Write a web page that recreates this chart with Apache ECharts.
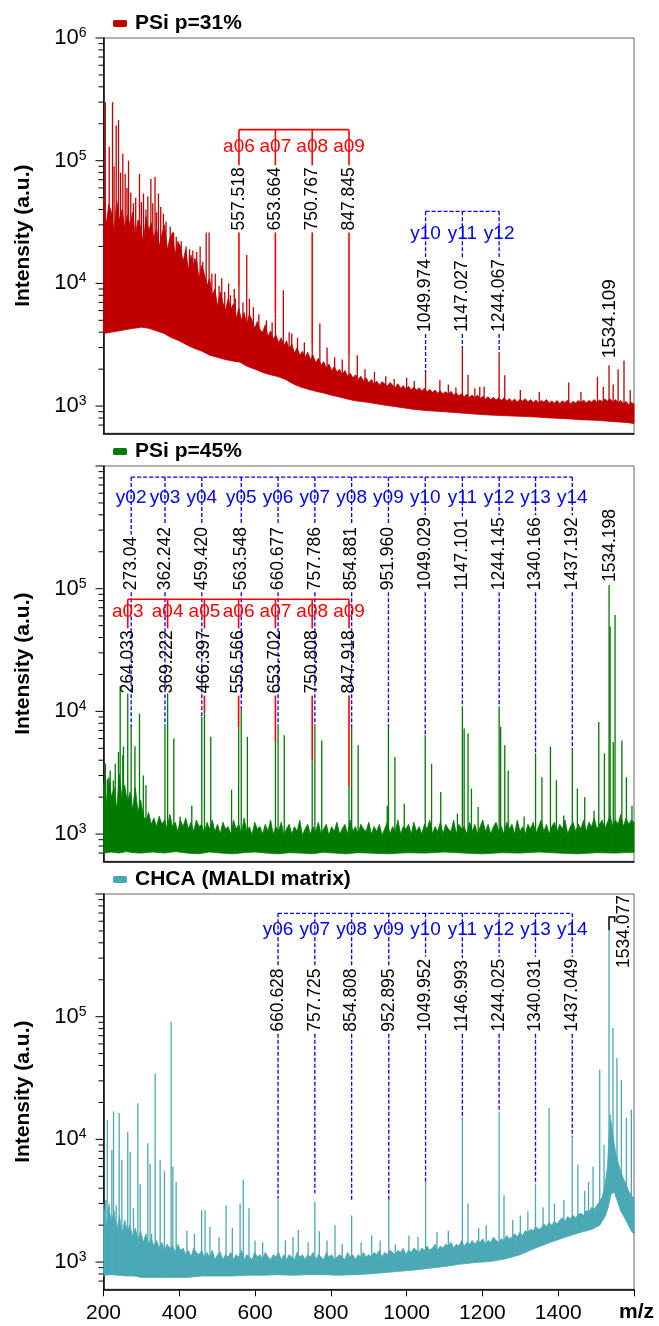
<!DOCTYPE html>
<html><head><meta charset="utf-8">
<script src="https://cdn.jsdelivr.net/npm/echarts@6/dist/echarts.min.js"></script>
<style>html,body{margin:0;padding:0;background:#fff}#c{width:659px;height:1326px}</style>
</head><body><div id="c"></div>
<script>
// ---------------- DATA ----------------
const xTicks = [200, 400, 600, 800, 1000, 1200, 1400, 1600];
const majorTicks = [1000, 10000, 100000, 1000000];
const minorTicks = [700,800,900,2000,3000,4000,5000,6000,7000,8000,9000,20000,30000,40000,50000,60000,70000,80000,90000,200000,300000,400000,500000,600000,700000,800000,900000];
const seriesNames = ['PSi p=31%', 'PSi p=45%', 'CHCA (MALDI matrix)'];

// upper edge of the noise band, sampled every 7 m/z from m/z 200 to 1600
const topStart = 200, topStep = 7;
const p1Top = [52000,30000,44000,38000,26000,47000,33000,40000,28000,36000,
 30000,38000,24000,33000,29000,21000,35000,27000,31000,23000,
 28000,20000,25000,30000,19000,23000,26000,17000,22000,20000,
 15000,19000,13000,17000,14000,16000,11000,14000,12000,9500,
 11000,8000,9000,6500,8500,7000,6000,7500,6200,6800,
 5200,6300,5000,5800,4600,5600,5000,4300,4900,4200,
 4000,4600,3700,4100,3500,3800,3300,3600,3100,3400,
 2900,3200,2700,3000,2600,2800,2500,2750,2400,2600,
 2250,2450,2150,2300,2050,2200,1950,2100,1900,2000,
 1800,1950,1750,1850,1700,1800,1650,1750,1600,1700,
 1550,1650,1500,1600,1480,1580,1520,1450,1560,1480,
 1420,1520,1400,1470,1380,1450,1360,1430,1350,1410,
 1330,1400,1300,1370,1290,1350,1270,1330,1260,1310,
 1250,1320,1230,1280,1210,1260,1190,1250,1180,1230,
 1170,1230,1150,1200,1140,1190,1130,1180,1120,1170,
 1110,1170,1100,1150,1090,1140,1080,1130,1100,1150,
 1080,1130,1070,1120,1060,1110,1080,1130,1060,1100,
 1060,1110,1050,1100,1070,1120,1040,1090,1060,1110,
 1070,1120,1060,1110,1080,1130,1070,1120,1090,1140,
 1100,1150,1080,1130,1070,1110,1050,1090,1030,1070,1040];
const p2Top = [2600,1700,2900,2000,2400,1600,3100,1900,2500,1800,
 2200,1600,2400,1500,1900,1400,1300,1500,1200,1350,
 1150,1400,1200,1300,1100,1450,1150,1250,1050,1300,
 1150,1350,1100,1250,1050,1300,1150,1200,1000,1250,
 1100,1300,1050,1200,1000,1250,1100,1150,1000,1300,
 1100,1200,1000,1350,1050,1150,980,1250,1100,1150,
 1000,1200,1050,1300,1000,1150,1050,1250,980,1100,
 1200,1000,1150,1050,1300,980,1100,1200,1000,1150,
 1050,1250,1000,1100,1200,980,1150,1050,1250,1000,
 1100,1200,1000,1300,1050,1150,1000,1200,1100,1050,
 1250,1000,1150,1050,1200,980,1100,1250,1000,1150,
 1050,1300,1000,1150,1100,1200,1000,1250,1050,1150,
 1000,1200,1100,1300,1000,1150,1050,1250,1000,1200,
 1100,1050,1300,1000,1200,1100,1150,1000,1250,1050,
 1200,1000,1150,1300,1050,1200,1000,1150,1250,1050,
 1150,1000,1250,1100,1200,1000,1300,1050,1150,1000,
 1200,1100,1250,1000,1150,1300,1050,1200,1000,1150,
 1250,1050,1200,1100,1300,1000,1150,1250,1050,1200,
 1100,1300,1050,1250,1150,1350,1100,1200,1300,1100,
 1250,1400,1150,1300,1200,1450,1150,1350,1200,1300,1250];
const p3Top = [3000,1900,2800,2100,2600,1800,2400,1700,2200,1800,
 2000,1600,1900,1500,1800,1450,1700,1400,1550,1350,
 1500,1300,1450,1250,1400,1300,1350,1200,1400,1250,
 1300,1150,1250,1100,1300,1200,1150,1250,1100,1200,
 1100,1250,1050,1150,1200,1050,1150,1100,1200,1050,
 1150,1100,1250,1050,1150,1100,1050,1200,1100,1150,
 1050,1200,1100,1050,1150,1100,1200,1050,1150,1050,
 1150,1100,1050,1200,1100,1150,1050,1150,1100,1200,
 1050,1150,1100,1050,1200,1100,1150,1050,1100,1150,
 1100,1050,1200,1100,1150,1050,1150,1100,1200,1100,
 1150,1100,1200,1150,1250,1100,1200,1150,1250,1200,
 1150,1250,1200,1300,1150,1250,1200,1300,1250,1200,
 1300,1250,1350,1250,1300,1400,1250,1350,1300,1400,
 1350,1450,1300,1400,1350,1500,1350,1450,1400,1500,
 1400,1500,1450,1550,1400,1500,1450,1600,1500,1450,
 1550,1500,1650,1550,1600,1700,1600,1750,1650,1800,
 1750,1850,1800,1950,1850,1900,2050,1950,2100,2000,
 2150,2050,2200,2300,2150,2350,2250,2400,2300,2450,
 2500,2400,2650,2550,2800,2700,2900,3100,3400,4200,
 6000,16000,11000,8000,6500,5500,4800,4300,3800,3500,3300];
// lower edge of the noise band: [m/z, intensity]
const p1Low = [[200,3900],[220,4000],[240,4100],[260,4200],[280,4300],[300,4400],[320,4300],[340,4100],[360,3900],[380,3600],[400,3400],[420,3150],[440,2950],[460,2800],[480,2600],[500,2500],[520,2400],[540,2330],[560,2280],[580,2100],[600,2000],[620,1880],[640,1800],[660,1740],[680,1650],[700,1520],[720,1430],[740,1370],[760,1320],[780,1280],[800,1230],[820,1190],[840,1150],[860,1110],[880,1090],[900,1070],[940,1020],[980,980],[1020,940],[1060,915],[1100,900],[1140,880],[1180,860],[1220,845],[1260,835],[1300,825],[1340,815],[1380,800],[1420,790],[1460,775],[1500,765],[1540,750],[1580,735],[1600,720]];
const p2Low = [[200,700],[220,715],[240,700],[260,720],[280,705],[300,700],[330,715],[360,700],[390,720],[420,700],[450,690],[480,715],[510,700],[540,690],[570,705],[600,715],[630,700],[660,690],[690,705],[720,700],[750,690],[780,710],[810,700],[840,690],[870,705],[900,700],[950,690],[1000,705],[1050,700],[1100,715],[1150,700],[1200,690],[1250,705],[1300,700],[1350,715],[1400,700],[1450,690],[1500,705],[1550,700],[1600,710]];
const p3Low = [[200,780],[220,790],[240,780],[260,770],[280,770],[300,750],[340,750],[380,750],[420,750],[460,770],[500,770],[540,770],[580,780],[620,780],[660,790],[700,780],[740,790],[780,790],[820,780],[860,790],[900,800],[940,820],[980,840],[1020,860],[1060,890],[1100,920],[1140,960],[1180,990],[1220,1010],[1260,1060],[1300,1150],[1340,1300],[1380,1450],[1420,1600],[1460,1750],[1490,1850],[1510,2000],[1525,2400],[1532,2800],[1540,3600],[1548,3700],[1555,3200],[1565,2600],[1575,2300],[1585,2000],[1595,1750],[1600,1700]];

// peaks: [m/z, intensity]
const p1Peaks = [[204.7,300000],[215,130000],[223.8,300000],[228,90000],[233.5,194000],[239.6,214000],[245,80000],[251,114000],[257.2,78000],[262,60000],[266,100000],[272,55000],[279,45000],[285,50000],[295,78000],[300,46000],[305.5,54000],[312,40000],[317,51000],[325,71000],[330,45000],[336,74000],[340,38000],[345,54000],[351,42000],[358,37000],[365,32000],[376,29000],[385,26000],[392,24000],[399.6,18000],[405,22000],[411,15500],[418,20000],[427,19000],[435.7,18500],[440,16000],[446,18000],[455,20000],[462,15000],[471,26000],[478.7,26000],[486,12000],[495,12000],[505,9500],[512,11000],[520,8500],[530,10000],[535,8000],[545,9000],[548,7500],[557.5,9300],[568,7000],[578,17000],[585,7500],[595.5,6400],[610,5600],[630,5000],[645,4800],[653.7,5700],[674.6,8800],[690,4000],[696.7,3900],[712,3600],[730,3300],[750.8,3150],[771,4700],[790,3000],[810,2500],[830,2400],[847.8,2600],[869.7,2600],[890,2000],[915,1900],[945,1750],[967,1660],[1000,1700],[1020,1600],[1050,1850],[1087.7,1630],[1110,1500],[1130,1420],[1147,2980],[1162,1800],[1180,1400],[1193,1440],[1204.5,1440],[1244.1,2750],[1259,1780],[1300,1350],[1350,1300],[1427.8,1560],[1460,1300],[1503.5,1730],[1519,1430],[1534.1,2150],[1545,1500],[1558,2000],[1573.6,2340],[1590,1350]];
const p2Peaks = [[205,3750],[210,2800],[217.7,3300],[226,2740],[231,3750],[239.5,4670],[244,16000],[251,4400],[252.7,5160],[264,14000],[273,7460],[283,5200],[295,9600],[305,3000],[312,2500],[362.2,7700],[369.2,14000],[385.6,6000],[402,1390],[433,1700],[459.4,9000],[466.4,10000],[483,6200],[538,2300],[556.6,7460],[563.5,10400],[579.7,6200],[653.7,5640],[660.7,7700],[677,6400],[750.8,4000],[757.8,7700],[776,5800],[847.9,2420],[854.9,7460],[872,5300],[948.8,1700],[952,7460],[969,4250],[993.7,1770],[1049,6380],[1065.8,3730],[1090,2200],[1134,1470],[1147.1,10900],[1151.8,7250],[1162,6600],[1171,2350],[1188.6,1660],[1244.1,10900],[1248,7460],[1259,5300],[1268,3300],[1310,1390],[1340.2,4550],[1357,2900],[1379.5,5160],[1395.3,2750],[1414.6,1420],[1437.2,4820],[1450.6,2350],[1470,2000],[1494.6,1550],[1507,8200],[1522,4550],[1534.2,107000],[1537,49000],[1545.2,5640],[1550,61000],[1568,5800],[1580,2900],[1594.6,1700]];
const p3Peaks = [[206,3200],[210,14400],[215,3000],[222,8200],[226.5,16900],[233.5,2900],[241.4,16400],[248.4,6800],[264,11500],[270.4,7900],[279,2750],[290.7,19700],[296.8,4300],[317,9300],[323,6300],[327,1700],[336.3,34500],[349.5,6800],[360.8,5500],[378.5,91000],[383,6000],[391.7,4500],[420,1800],[440,1700],[459,2650],[468,2650],[481,1930],[505,1600],[523.5,2900],[540,1900],[560.5,3000],[569,4700],[584,2750],[600,1500],[620,1450],[660.6,3300],[680,1500],[700,1600],[714,1830],[740,1450],[757.7,3100],[769.5,1780],[790,1500],[811,2000],[830,1400],[854.8,2400],[880,1450],[907.6,1650],[930,1500],[952.9,3200],[970,1400],[1006,1650],[1030,1600],[1050,4500],[1080,1750],[1110,1800],[1147,14800],[1162,3000],[1190,1900],[1210,2000],[1244,16800],[1257,3500],[1280,2200],[1300,2400],[1320,2600],[1340,4300],[1360,2800],[1376,18000],[1390,3000],[1400,2050],[1415,3200],[1437,10500],[1452,6200],[1470,3800],[1480,4500],[1492,6000],[1509.5,37000],[1521,9000],[1534.1,510000],[1544.6,81000],[1555,46000],[1566.7,30500],[1580,15000],[1593,17500]];

// fragment annotations: [label m/z text, ion name, peak intensity]
const p1aIons = [['557.518','a06',9300],['653.664','a07',5700],['750.767','a08',3150],['847.845','a09',2600]];
const p1yIons = [['1049.974','y10',1850],['1147.027','y11',2980],['1244.067','y12',2750]];
const p2yIons = [['273.04','y02',7460],['362.242','y03',7700],['459.420','y04',9000],['563.548','y05',10400],['660.677','y06',7700],['757.786','y07',7700],['854.881','y08',7460],['951.960','y09',7460],['1049.029','y10',6380],['1147.101','y11',10900],['1244.145','y12',10900],['1340.166','y13',4550],['1437.192','y14',4820]];
const p2aIons = [['264.033','a03',14000],['369.222','a04',14000],['466.397','a05',9900],['556.566','a06',7460],['653.702','a07',5640],['750.808','a08',4000],['847.918','a09',2420]];
const p3yIons = [['660.628','y06',3300],['757.725','y07',3640],['854.808','y08',3100],['952.895','y09',3200],['1049.952','y10',4500],['1146.993','y11',14800],['1244.025','y12',16800],['1340.031','y13',4300],['1437.049','y14',10500]];
// bracket level, ion-label level, number-label bottom level (intensity units)
const p1aLevels = [179000, 129000, 27000];
const p1yLevels = [38700, 25400, 4020];
const p2yLevels = [813000, 556000, 97000];
const p2aLevels = [82000, 64600, 13970];
const p3yLevels = [696000, 509000, 75500];
// parent-ion labels: [text, m/z position, bottom level]
const p1Parent = ['1534.109', 1536, 2450];
const p2Parent = ['1534.198', 1537, 113500];
const p3Parent = ['1534.077', 1575, 249000];
const p3Hook = [[1534.077,510000],[1534.077,650000],[1549,650000],[1549,590000]];

// ---------------- RENDER ----------------
const FONT = '"Liberation Sans", Arial, sans-serif';
const COLORS = ['#c00000', '#007a00', '#4aa9b4'];
const RED = '#ff0000', BLUE = '#0000ff';
const NUM_SIZE = 17.5, ION_SIZE = 19;
const GRID_TOP = [38, 466, 894];
const mctx = document.createElement('canvas').getContext('2d');
function textW(t, size){ mctx.font = size + 'px ' + FONT; return mctx.measureText(t).width; }

function baseAt(low, mz){
  for (let i = 0; i < low.length - 1; i++){
    if (mz >= low[i][0] && mz <= low[i+1][0]) return Math.max(low[i][1], low[i+1][1]) * 1.05;
  }
  return low[low.length-1][1] * 1.05;
}
function bandSeries(idx, top, low, color, name){
  return {type:'custom', name:name, xAxisIndex:idx, yAxisIndex:idx, silent:true, z:2,
    itemStyle:{color:color}, data:[[topStart, top[0]]],
    renderItem(params, api){
      const pts = [];
      top.forEach((v, k) => pts.push(api.coord([topStart + k * topStep, v])));
      for (let i = low.length-1; i >= 0; i--) pts.push(api.coord(low[i]));
      return {type:'polygon', shape:{points:pts}, style:{fill:color, stroke:color, lineWidth:0.8}};
    }};
}
function stickSeries(idx, peaks, low, color){
  return {type:'custom', xAxisIndex:idx, yAxisIndex:idx, silent:true, z:3, data:peaks,
    renderItem(params, api){
      const mz = api.value(0), v = api.value(1);
      const p0 = api.coord([mz, baseAt(low, mz)]), p1 = api.coord([mz, v]);
      return {type:'line', shape:{x1:p0[0], y1:p0[1], x2:p1[0], y2:p1[1]}, style:{stroke:color, lineWidth:1.3}};
    }};
}
function tickSeries(idx, vals, len){
  return {type:'custom', xAxisIndex:idx, yAxisIndex:idx, silent:true, z:5, clip:false,
    data: vals.map(v => [xTicks[0], v]),
    renderItem(params, api){
      const p = api.coord([api.value(0), api.value(1)]);
      return {type:'line', shape:{x1:p[0]-len, y1:p[1], x2:p[0], y2:p[1]}, style:{stroke:'#000', lineWidth:1}};
    }};
}
function annoSeries(idx, ions, levels, color, dashed, z){
  const n = ions.length;
  return {type:'custom', xAxisIndex:idx, yAxisIndex:idx, silent:true, z:z, clip:false,
    data: ions.map(d => [parseFloat(d[0]), d[2]]),
    renderItem(params, api){
      const d = ions[params.dataIndex];
      const mz = parseFloat(d[0]);
      const pB = api.coord([mz, levels[0]]);
      const x = pB[0], yB = pB[1];
      const yIon = api.coord([mz, levels[1]])[1];
      const yNb = api.coord([mz, levels[2]])[1];
      const yPk = api.coord([mz, d[2]])[1];
      const w = textW(d[0], NUM_SIZE);
      const ls = {stroke:color, lineWidth: dashed ? 1.3 : 1.6, lineDash: dashed ? [4, 2] : null};
      const ch = [];
      if (params.dataIndex === 0){
        const xl = api.coord([parseFloat(ions[n-1][0]), levels[0]])[0];
        ch.push({type:'line', shape:{x1:x, y1:yB, x2:xl, y2:yB}, style:ls});
      }
      ch.push({type:'line', shape:{x1:x, y1:yB, x2:x, y2:yNb - w - 2}, style:ls});
      if (yPk > yNb + 2) ch.push({type:'line', shape:{x1:x, y1:yNb + 2, x2:x, y2:yPk}, style:ls});
      ch.push({type:'text', x:x, y:yIon, style:{text:d[1], fill:color, fontSize:ION_SIZE, fontFamily:FONT, align:'center', verticalAlign:'middle'}});
      ch.push({type:'text', x:x, y:yNb, rotation:Math.PI/2, style:{text:d[0], fill:'#000', fontSize:NUM_SIZE, fontFamily:FONT, align:'left', verticalAlign:'middle'}});
      return {type:'group', children:ch};
    }};
}
function parentLabel(idx, p, size){
  return {type:'custom', xAxisIndex:idx, yAxisIndex:idx, silent:true, z:20, clip:false,
    data:[[p[1], p[2]]],
    renderItem(params, api){
      const c = api.coord([p[1], p[2]]);
      return {type:'text', x:c[0], y:c[1], rotation:Math.PI/2, style:{text:p[0], fill:'#000', fontSize:size, fontFamily:FONT, align:'left', verticalAlign:'middle'}};
    }};
}
function hookSeries(idx, pts){
  return {type:'custom', xAxisIndex:idx, yAxisIndex:idx, silent:true, z:20, clip:false,
    data:[pts[0]],
    renderItem(params, api){
      return {type:'polyline', shape:{points: pts.map(p => api.coord(p))}, style:{stroke:'#000', lineWidth:1.5, fill:null}};
    }};
}
function yLabelFmt(showTop){
  return function(v){
    const l = Math.log10(v), e = Math.round(l);
    if (Math.abs(l - e) > 1e-6) return '';
    if (e === 6 && !showTop) return '';
    return '{b|10}{s|' + e + '}';
  };
}

const grids = [], xAxes = [], yAxes = [], legends = [];
for (let i = 0; i < 3; i++){
  grids.push({left:103.5, top:GRID_TOP[i], width:530.5, height:395.3, show:true, borderColor:'#666', borderWidth:1, backgroundColor:'transparent'});
  xAxes.push({type:'value', gridIndex:i, min:xTicks[0], max:xTicks[xTicks.length-1], interval:200,
    axisLine:{show:true, onZero:false, lineStyle:{color:'#000', width:1.5}},
    axisTick:{show:i === 2, length:7, lineStyle:{color:'#000', width:1}},
    axisLabel:{show:i === 2, fontSize:21, fontFamily:FONT, color:'#000', margin:13,
      formatter: v => (v === xTicks[xTicks.length-1] ? '' : String(v))},
    splitLine:{show:false}});
  yAxes.push({type:'log', logBase:10, gridIndex:i, min:600, max:1000000,
    axisLine:{show:true, lineStyle:{color:'#000', width:1.5}},
    axisTick:{show:false}, splitLine:{show:false}, minorTick:{show:false},
    axisLabel:{formatter:yLabelFmt(i === 0), margin:17,
      rich:{b:{fontSize:22, fontFamily:FONT, color:'#000', lineHeight:24},
            s:{fontSize:14, fontFamily:FONT, color:'#000', verticalAlign:'top', lineHeight:12, padding:[0,0,8,0]}}},
    name:'Intensity (a.u.)', nameLocation:'middle', nameGap:70,
    nameTextStyle:{fontSize:21, fontWeight:'bold', fontFamily:FONT, color:'#000'}});
  legends.push({data:[{name:seriesNames[i], icon:'roundRect'}], left:108, top:GRID_TOP[i] - 30,
    itemWidth:14, itemHeight:7, selectedMode:false,
    textStyle:{fontSize:21, fontWeight:'bold', fontFamily:FONT, color:'#000', padding:[0,0,0,3]}});
}

const series = [
  bandSeries(0, p1Top, p1Low, COLORS[0], seriesNames[0]), stickSeries(0, p1Peaks, p1Low, COLORS[0]),
  bandSeries(1, p2Top, p2Low, COLORS[1], seriesNames[1]), stickSeries(1, p2Peaks, p2Low, COLORS[1]),
  bandSeries(2, p3Top, p3Low, COLORS[2], seriesNames[2]), stickSeries(2, p3Peaks, p3Low, COLORS[2]),
  annoSeries(0, p1aIons, p1aLevels, RED, false, 10),
  annoSeries(0, p1yIons, p1yLevels, BLUE, true, 10),
  annoSeries(1, p2yIons, p2yLevels, BLUE, true, 10),
  annoSeries(1, p2aIons, p2aLevels, RED, false, 11),
  annoSeries(2, p3yIons, p3yLevels, BLUE, true, 10),
  parentLabel(0, p1Parent, 19), parentLabel(1, p2Parent, NUM_SIZE), parentLabel(2, p3Parent, NUM_SIZE),
  hookSeries(2, p3Hook)
];
for (let i = 0; i < 3; i++){
  series.push(tickSeries(i, majorTicks, 8));
  series.push(tickSeries(i, minorTicks, 5));
}

const chart = echarts.init(document.getElementById('c'), null, {renderer:'canvas'});
chart.setOption({
  animation:false, backgroundColor:'#fff',
  grid:grids, xAxis:xAxes, yAxis:yAxes, legend:legends, series:series,
  graphic:[{type:'text', left:619, top:1302, style:{text:'m/z', fontSize:21, fontWeight:'bold', fontFamily:FONT, fill:'#000'}}]
});
</script>
</body></html>
